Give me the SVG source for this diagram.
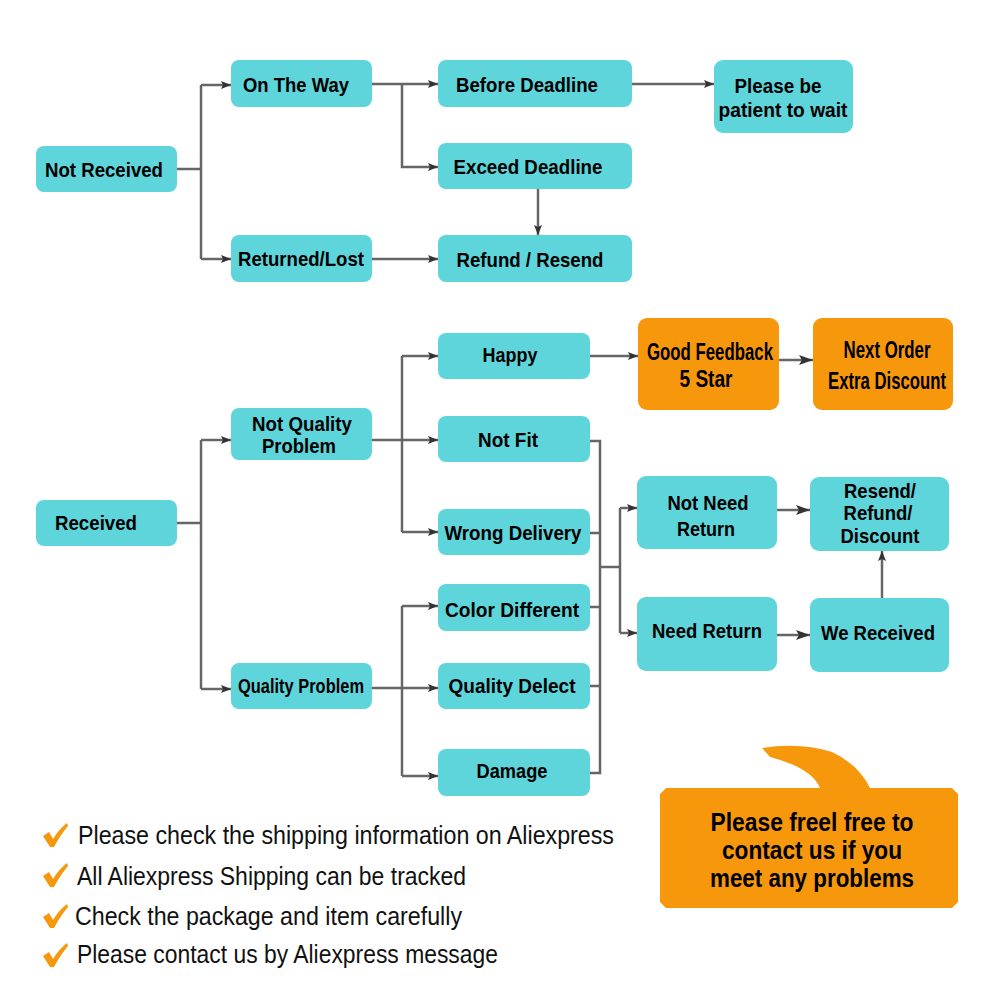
<svg xmlns="http://www.w3.org/2000/svg" width="1000" height="1000" viewBox="0 0 1000 1000">
<defs>
<style>
.n{fill:#5dd5db}
.o{fill:#f7980c}
.t{font-family:"Liberation Sans",Arial,sans-serif;font-weight:bold;font-size:21px;fill:#000;text-anchor:middle}
.to{font-size:24px}
.tb{font-size:26px}
.c{fill:none;stroke:#666;stroke-width:2.5}
.b{font-family:"Liberation Sans","DejaVu Sans",sans-serif;font-size:25px;fill:#111}
.k{fill:#f7980c}
</style>
<marker id="a" markerUnits="userSpaceOnUse" markerWidth="10" markerHeight="10" viewBox="0 0 10 10" refX="10" refY="5" orient="auto">
<path d="M0,1 L10,5 L0,9 L2,5 Z" fill="#333"/>
</marker>
<marker id="a2" markerUnits="userSpaceOnUse" markerWidth="14" markerHeight="12" viewBox="0 0 14 12" refX="14" refY="6" orient="auto">
<path d="M0,1 L14,6 L0,11 L3,6 Z" fill="#333"/>
</marker>
</defs>
<rect width="1000" height="1000" fill="#fff"/>

<g id="connectors">
<path class="c" d="M177,169 H201"/>
<path class="c" d="M201,85 V259"/>
<path class="c" d="M201,85 H231" marker-end="url(#a)"/>
<path class="c" d="M201,259 H231" marker-end="url(#a)"/>
<path class="c" d="M372,84 H438" marker-end="url(#a)"/>
<path class="c" d="M402,84 V167 H438" marker-end="url(#a)"/>
<path class="c" d="M632,84 H714" marker-end="url(#a)"/>
<path class="c" d="M538,189 V235" marker-end="url(#a)"/>
<path class="c" d="M372,259 H438" marker-end="url(#a)"/>

<path class="c" d="M177,523 H201"/>
<path class="c" d="M201,440 V689"/>
<path class="c" d="M201,440 H231" marker-end="url(#a)"/>
<path class="c" d="M201,689 H231" marker-end="url(#a)"/>
<path class="c" d="M372,440 H438" marker-end="url(#a)"/>
<path class="c" d="M402,356 V532"/>
<path class="c" d="M402,356 H438" marker-end="url(#a)"/>
<path class="c" d="M402,532 H438" marker-end="url(#a)"/>
<path class="c" d="M590,356 H638" marker-end="url(#a)"/>
<path class="c" d="M779,360 H813" stroke-width="3.5" marker-end="url(#a2)"/>

<path class="c" d="M372,688 H438" marker-end="url(#a)"/>
<path class="c" d="M402,606 V776"/>
<path class="c" d="M402,606 H438" marker-end="url(#a)"/>
<path class="c" d="M402,776 H438" marker-end="url(#a)"/>

<path class="c" d="M590,441 H600 V773 H590" stroke-width="1.8"/>
<path class="c" d="M590,533 H600 M590,607 H600 M590,686 H600" stroke-width="2"/>
<path class="c" d="M600,567 H620"/>
<path class="c" d="M620,508 V633"/>
<path class="c" d="M620,508 H637" marker-end="url(#a)"/>
<path class="c" d="M620,633 H637" marker-end="url(#a)"/>
<path class="c" d="M777,510 H810" marker-end="url(#a2)"/>
<path class="c" d="M777,635 H810" marker-end="url(#a2)"/>
<path class="c" d="M882,598 V551" marker-end="url(#a)"/>
</g>

<g id="not-received"><rect class="n" x="36" y="146" width="141" height="46" rx="8"/><text class="t" x="104" y="177" textLength="118" lengthAdjust="spacingAndGlyphs">Not Received</text></g>
<g id="on-the-way"><rect class="n" x="231" y="60" width="141" height="47" rx="8"/><text class="t" x="296" y="92" textLength="106" lengthAdjust="spacingAndGlyphs">On The Way</text></g>
<g id="returned-lost"><rect class="n" x="231" y="235" width="141" height="47" rx="8"/><text class="t" x="301" y="266" textLength="126" lengthAdjust="spacingAndGlyphs">Returned/Lost</text></g>
<g id="before-deadline"><rect class="n" x="438" y="60" width="194" height="47" rx="8"/><text class="t" x="527" y="92" textLength="142" lengthAdjust="spacingAndGlyphs">Before Deadline</text></g>
<g id="exceed-deadline"><rect class="n" x="438" y="143" width="194" height="46" rx="8"/><text class="t" x="528" y="174" textLength="149" lengthAdjust="spacingAndGlyphs">Exceed Deadline</text></g>
<g id="refund-resend"><rect class="n" x="438" y="235" width="194" height="47" rx="8"/><text class="t" x="530" y="267" textLength="147" lengthAdjust="spacingAndGlyphs">Refund / Resend</text></g>
<g id="please-wait"><rect class="n" x="714" y="60" width="139" height="73" rx="9"/><text class="t" x="778" y="93" textLength="87" lengthAdjust="spacingAndGlyphs">Please be</text><text class="t" x="783" y="117" textLength="129" lengthAdjust="spacingAndGlyphs">patient to wait</text></g>

<g id="received"><rect class="n" x="36" y="500" width="141" height="46" rx="8"/><text class="t" x="96" y="530" textLength="82" lengthAdjust="spacingAndGlyphs">Received</text></g>
<g id="not-quality-problem"><rect class="n" x="231" y="408" width="141" height="52" rx="8"/><text class="t" x="302" y="431" textLength="100" lengthAdjust="spacingAndGlyphs">Not Quality</text><text class="t" x="299" y="453" textLength="74" lengthAdjust="spacingAndGlyphs">Problem</text></g>
<g id="happy"><rect class="n" x="438" y="333" width="152" height="46" rx="8"/><text class="t" x="510" y="362" textLength="55" lengthAdjust="spacingAndGlyphs">Happy</text></g>
<g id="not-fit"><rect class="n" x="438" y="416" width="152" height="46" rx="8"/><text class="t" x="508" y="447" textLength="60" lengthAdjust="spacingAndGlyphs">Not Fit</text></g>
<g id="wrong-delivery"><rect class="n" x="438" y="509" width="152" height="46" rx="8"/><text class="t" x="513" y="540" textLength="137" lengthAdjust="spacingAndGlyphs">Wrong Delivery</text></g>
<g id="color-different"><rect class="n" x="438" y="584" width="152" height="47" rx="8"/><text class="t" x="512" y="617" textLength="134" lengthAdjust="spacingAndGlyphs">Color Different</text></g>
<g id="quality-problem"><rect class="n" x="231" y="663" width="141" height="46" rx="8"/><text class="t" x="301" y="693" textLength="126" lengthAdjust="spacingAndGlyphs">Quality Problem</text></g>
<g id="quality-delect"><rect class="n" x="438" y="663" width="152" height="46" rx="8"/><text class="t" x="512" y="693" textLength="127" lengthAdjust="spacingAndGlyphs">Quality Delect</text></g>
<g id="damage"><rect class="n" x="438" y="749" width="152" height="47" rx="8"/><text class="t" x="512" y="778" textLength="71" lengthAdjust="spacingAndGlyphs">Damage</text></g>
<g id="good-feedback"><rect class="o" x="638" y="318" width="141" height="92" rx="9"/><text class="t to" x="710" y="360" textLength="126" lengthAdjust="spacingAndGlyphs">Good Feedback</text><text class="t to" x="706" y="387" textLength="53" lengthAdjust="spacingAndGlyphs">5 Star</text></g>
<g id="next-order"><rect class="o" x="813" y="318" width="140" height="92" rx="9"/><text class="t to" x="887" y="358" textLength="87" lengthAdjust="spacingAndGlyphs">Next Order</text><text class="t to" x="887" y="389" textLength="118" lengthAdjust="spacingAndGlyphs">Extra Discount</text></g>
<g id="not-need-return"><rect class="n" x="637" y="476" width="140" height="73" rx="9"/><text class="t" x="708" y="510" textLength="81" lengthAdjust="spacingAndGlyphs">Not Need</text><text class="t" x="706" y="536" textLength="58" lengthAdjust="spacingAndGlyphs">Return</text></g>
<g id="need-return"><rect class="n" x="637" y="597" width="140" height="74" rx="9"/><text class="t" x="707" y="638" textLength="110" lengthAdjust="spacingAndGlyphs">Need Return</text></g>
<g id="resend-refund-discount"><rect class="n" x="810" y="477" width="139" height="74" rx="9"/><text class="t" x="880" y="498" textLength="72" lengthAdjust="spacingAndGlyphs">Resend/</text><text class="t" x="878" y="520" textLength="69" lengthAdjust="spacingAndGlyphs">Refund/</text><text class="t" x="880" y="543" textLength="79" lengthAdjust="spacingAndGlyphs">Discount</text></g>
<g id="we-received"><rect class="n" x="810" y="598" width="139" height="74" rx="9"/><text class="t" x="878" y="640" textLength="114" lengthAdjust="spacingAndGlyphs">We Received</text></g>

<g id="notes">
<path class="k" d="M43,836 L49,832 L53,839 Q59,829 67,823 L68,826 Q61,834 54,847 L50,847 Z"/>
<path class="k" d="M43,876 L49,872 L53,879 Q59,869 67,863 L68,866 Q61,874 54,887 L50,887 Z"/>
<path class="k" d="M43,917 L49,913 L53,920 Q59,910 67,904 L68,907 Q61,915 54,928 L50,928 Z"/>
<path class="k" d="M43,956 L49,952 L53,959 Q59,949 67,943 L68,946 Q61,954 54,967 L50,967 Z"/>
<text class="b" x="78" y="844" textLength="536" lengthAdjust="spacingAndGlyphs">Please check the shipping information on Aliexpress</text>
<text class="b" x="77" y="885" textLength="389" lengthAdjust="spacingAndGlyphs">All Aliexpress Shipping can be tracked</text>
<text class="b" x="75" y="925" textLength="387" lengthAdjust="spacingAndGlyphs">Check the package and item carefully</text>
<text class="b" x="77" y="963" textLength="421" lengthAdjust="spacingAndGlyphs">Please contact us by Aliexpress message</text>
</g>

<g id="contact-bubble">
<path class="o" d="M666,788 H820 Q812,768 770,757 L762,748 Q800,742 832,752 Q858,764 870,788 H952 L958,794 V902 L952,908 H666 L660,902 V794 Z"/>
<text class="t tb" x="812" y="831" textLength="203" lengthAdjust="spacingAndGlyphs">Please freel free to</text>
<text class="t tb" x="812" y="859" textLength="180" lengthAdjust="spacingAndGlyphs">contact us if you</text>
<text class="t tb" x="812" y="887" textLength="204" lengthAdjust="spacingAndGlyphs">meet any problems</text>
</g>
</svg>
